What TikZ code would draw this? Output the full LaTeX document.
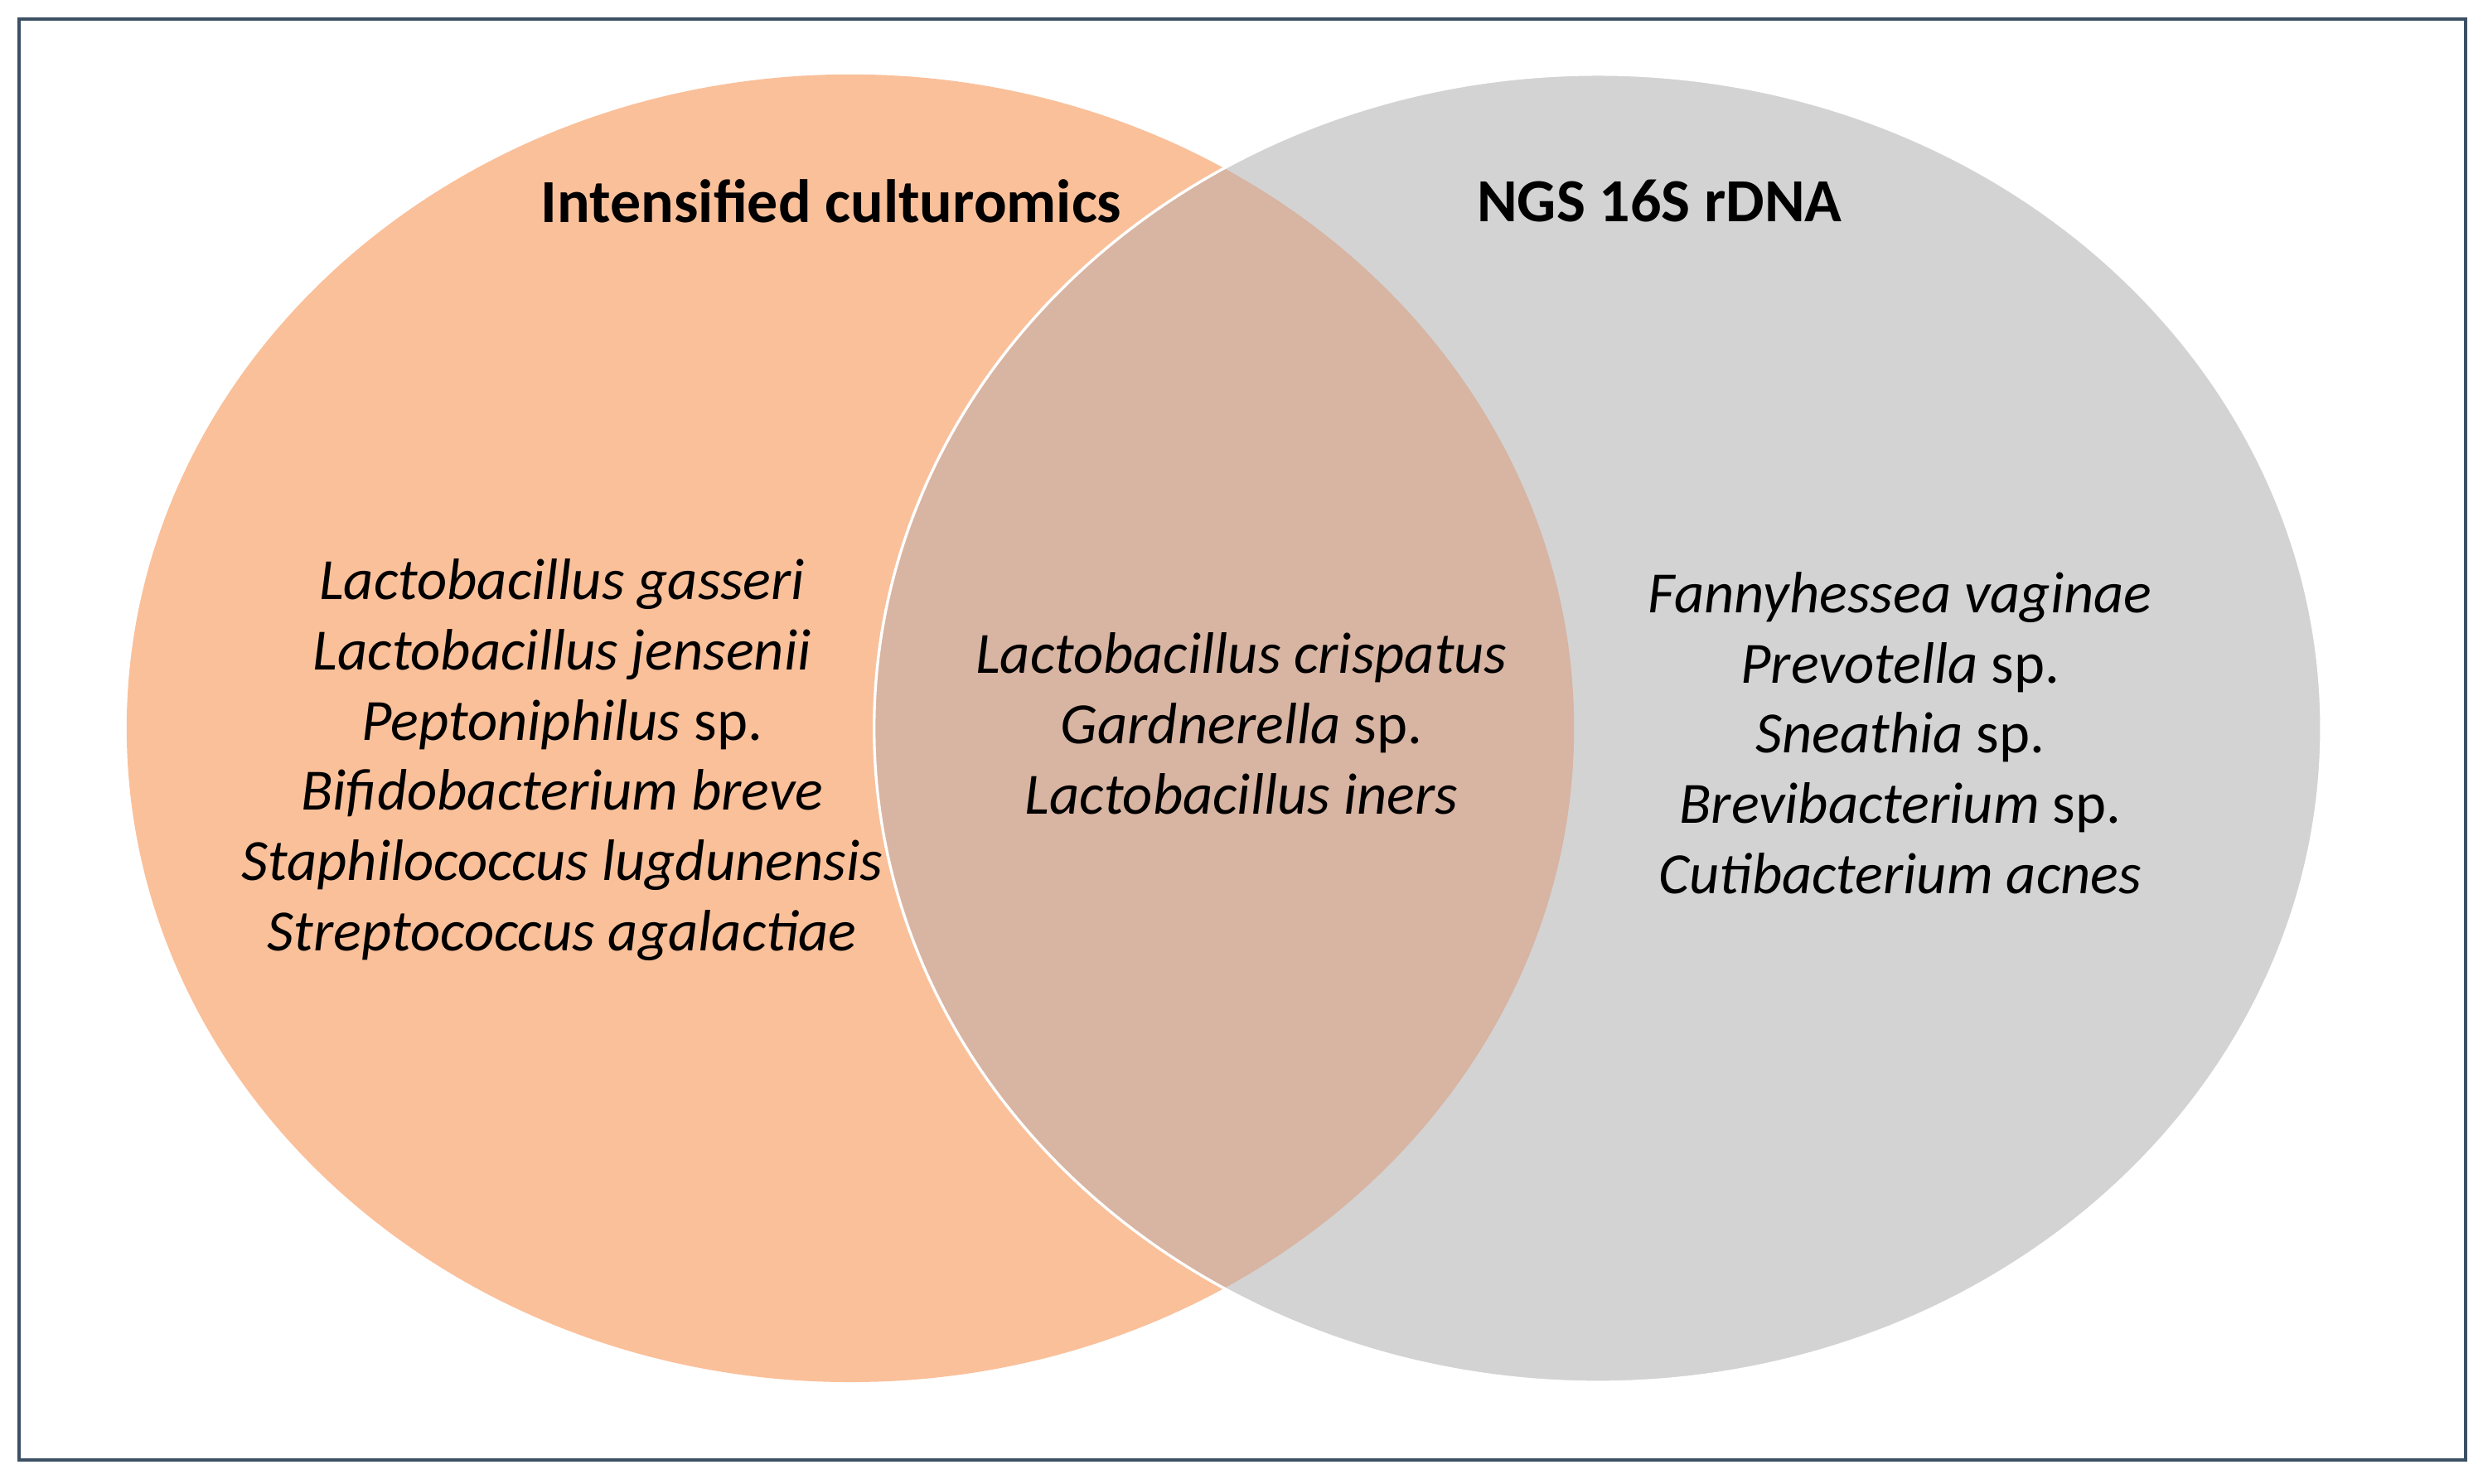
\documentclass[tikz,border=0pt]{standalone}
\usepackage{fontspec}
\setmainfont{Carlito}
\definecolor{peach}{RGB}{250,192,154}
\definecolor{lgray}{RGB}{211,211,211}
\definecolor{overlap}{RGB}{216,180,162}
\definecolor{frame}{RGB}{60,80,100}
\tikzset{lbl/.style={align=center,font=\fontsize{10.5}{12.6}\selectfont\itshape},
ttl/.style={font=\fontsize{11}{13}\selectfont\bfseries}}
\begin{document}
\begin{tikzpicture}[x=0.01cm,y=-0.01cm]
\useasboundingbox (0,0) rectangle (1568,937);
\fill[white] (0,0) rectangle (1568,937);
\draw[frame,line width=0.6pt] (12,12) rectangle (1557,922);
\fill[peach] (537,460) ellipse [x radius=457,y radius=413];
\fill[lgray] (1009,460) ellipse [x radius=457,y radius=413];
\begin{scope}
\clip (1009,460) ellipse [x radius=457,y radius=413];
\fill[overlap] (537,460) ellipse [x radius=457,y radius=413];
\end{scope}
\draw[white,line width=0.5pt] (1009,460) ellipse [x radius=457,y radius=413];
\node[ttl] (t1) at (525,127) {Intensified culturomics};
\node[ttl] (t2) at (1048,127) {NGS 16S rDNA};
\node[lbl] (l) at (355,480) {Lactobacillus gasseri\\Lactobacillus jensenii\\Peptoniphilus \upshape sp.\\Bifidobacterium breve\\Staphilococcus lugdunensis\\Streptococcus agalactiae};
\node[lbl] (m) at (784,457) {Lactobacillus crispatus\\Gardnerella \upshape sp.\\Lactobacillus iners};
\node[lbl] (r) at (1200,463) {Fannyhessea vaginae\\Prevotella \upshape sp.\\Sneathia \upshape sp.\\Brevibacterium \upshape sp.\\Cutibacterium acnes};
\end{tikzpicture}
\end{document}
